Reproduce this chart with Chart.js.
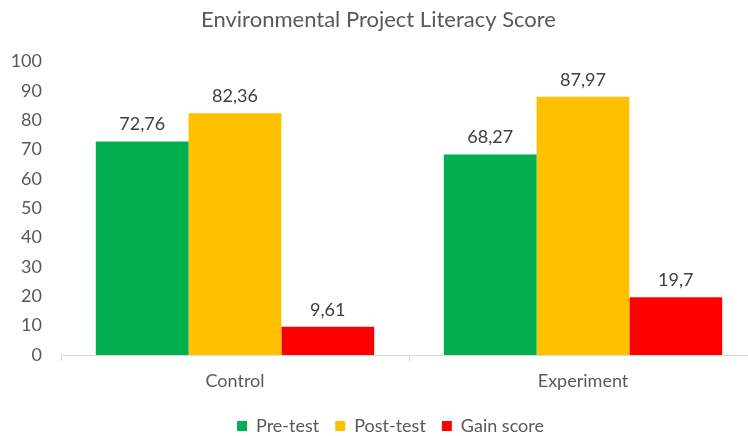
<!DOCTYPE html>
<html>
<head>
<meta charset="utf-8">
<script src="https://cdn.jsdelivr.net/npm/chart.js@4"></script>
<style>
  html, body { margin: 0; padding: 0; background: #fff; overflow: hidden; }
  #wrap { width: 760px; height: 436px; }
</style>
</head>
<body>
<div id="wrap"><canvas id="scoreChart" width="760" height="436"></canvas></div>
<script>
const groups = ['Control', 'Experiment'];
const preTest = [72.76, 68.27];
const postTest = [82.36, 87.97];
const gainScore = [9.61, 19.7];
const yTicks = [0, 10, 20, 30, 40, 50, 60, 70, 80, 90, 100];

const fontFamily = 'Lato, "Open Sans", sans-serif';
const textColor = '#595959';

// draws the value above each bar, with a decimal comma like the original
const barValues = {
    id: 'barValues',
    afterDatasetsDraw(chart) {
        const ctx = chart.ctx;
        ctx.save();
        ctx.font = '18px ' + fontFamily;
        ctx.fillStyle = '#404040';
        ctx.textAlign = 'center';
        ctx.textBaseline = 'bottom';
        chart.data.datasets.forEach((ds, i) => {
            chart.getDatasetMeta(i).data.forEach((bar, j) => {
                const label = String(ds.data[j]).replace('.', ',');
                ctx.fillText(label, bar.x, bar.y - 8);
            });
        });
        ctx.restore();
    }
};

// the original legend sits a little right of centre
const legendShift = {
    id: 'legendShift',
    afterLayout(chart) {
        chart.legend.left += 12;
        chart.legend.right += 12;
    }
};

const ctx = document.getElementById('scoreChart').getContext('2d');
new Chart(ctx, {
    type: 'bar',
    data: {
        labels: groups,
        datasets: [
            { label: 'Pre-test', data: preTest, backgroundColor: '#00B050' },
            { label: 'Post-test', data: postTest, backgroundColor: '#FFC000' },
            { label: 'Gain score', data: gainScore, backgroundColor: '#FF0000' }
        ]
    },
    options: {
        responsive: false,
        animation: false,
        layout: { padding: { top: 6, left: 0, right: 3, bottom: -9 } },
        datasets: {
            bar: { categoryPercentage: 0.8, barPercentage: 1.0 }
        },
        scales: {
            x: {
                afterFit(axis) { axis.height = 46; },
                grid: {
                    display: true,
                    drawOnChartArea: false,
                    offset: true,
                    color: '#d9d9d9',
                    tickLength: 6
                },
                border: { display: true, color: '#d9d9d9' },
                ticks: { color: textColor, font: { family: fontFamily, size: 18 }, padding: 9 }
            },
            y: {
                min: 0,
                max: 100,
                afterBuildTicks(axis) {
                    axis.ticks = yTicks.map(v => ({ value: v }));
                },
                afterFit(axis) { axis.width = 61; },
                grid: { display: false, drawTicks: false },
                border: { display: false },
                ticks: { color: textColor, font: { family: fontFamily, size: 18 }, padding: 19 }
            }
        },
        plugins: {
            title: {
                display: true,
                text: 'Environmental Project Literacy Score',
                color: textColor,
                font: { family: fontFamily, size: 22, weight: 'normal' },
                padding: { top: 1, bottom: 28 }
            },
            legend: {
                position: 'bottom',
                labels: {
                    color: textColor,
                    font: { family: fontFamily, size: 18 },
                    boxWidth: 10,
                    boxHeight: 10,
                    padding: 16
                }
            },
            tooltip: { enabled: false }
        }
    },
    plugins: [barValues, legendShift]
});
</script>
</body>
</html>
